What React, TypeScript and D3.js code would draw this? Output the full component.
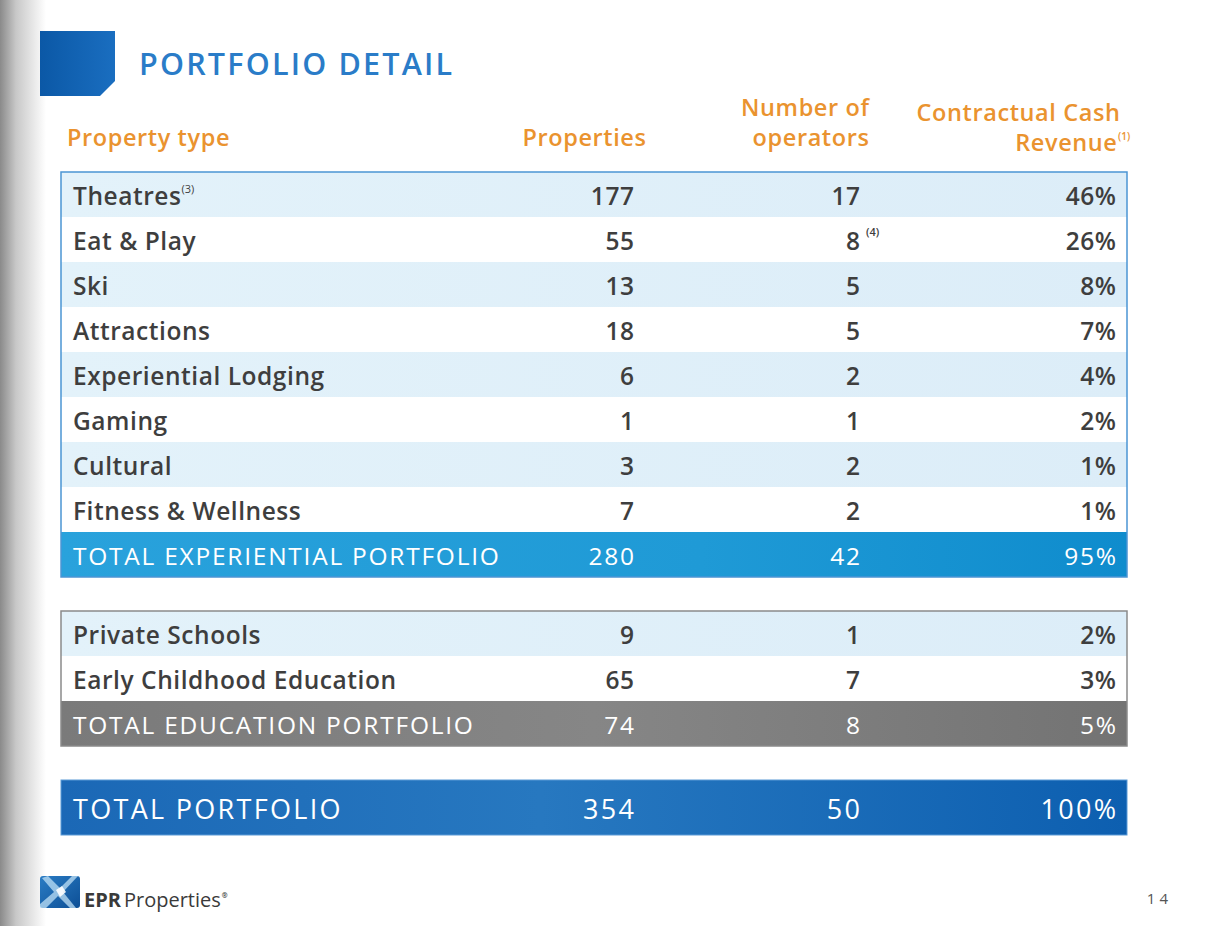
import React from "react";
import * as d3 from "d3";

const expCategories = ["Theatres", "Eat & Play", "Ski", "Attractions", "Experiential Lodging", "Gaming", "Cultural", "Fitness & Wellness"];
const expProperties = [177, 55, 13, 18, 6, 1, 3, 7];
const expOperators = [17, 8, 5, 5, 2, 1, 2, 2];
const expRevenue = [46, 26, 8, 7, 4, 2, 1, 1];
const expNotes = ["(3)", "", "", "", "", "", "", ""];
const opNotes = ["", "(4)", "", "", "", "", "", ""];
const expTotal = { label: "TOTAL EXPERIENTIAL PORTFOLIO", properties: 280, operators: 42, revenue: 95 };

const eduCategories = ["Private Schools", "Early Childhood Education"];
const eduProperties = [9, 65];
const eduOperators = [1, 7];
const eduRevenue = [2, 3];
const eduTotal = { label: "TOTAL EDUCATION PORTFOLIO", properties: 74, operators: 8, revenue: 5 };

const grandTotal = { label: "TOTAL PORTFOLIO", properties: 354, operators: 50, revenue: 100 };

const headerLabels = { type: "Property type", props: "Properties", ops: ["Number of", "operators"], rev: ["Contractual Cash", "Revenue"] };

const FONT = "'Open Sans', 'Noto Sans', sans-serif";
const W = 1212;
const H = 926;

const colX = { label: 73, props: 634, ops: 860, rev: 1116 };
const tableX0 = 61;
const tableX1 = 1127;

type Style = { size: number; weight: number; ls: number; color: string };

export default function App() {
  const expRows = [...expCategories, expTotal.label];
  const yExp = d3.scaleBand<string>().domain(expRows).range([172, 577]).padding(0);
  const eduRows = [...eduCategories, eduTotal.label];
  const yEdu = d3.scaleBand<string>().domain(eduRows).range([611, 746]).padding(0);
  const fmtPct = (v: number) => `${v}%`;
  const bodyColor = "#3e3e3e";

  const bodyStyle: Style = { size: 24.5, weight: 600, ls: 0.55, color: bodyColor };
  const totalStyle: Style = { size: 24.5, weight: 400, ls: 1.75, color: "#ffffff" };
  const grandStyle: Style = { size: 27, weight: 400, ls: 2.3, color: "#ffffff" };

  const rowText = (key: string, y: number, label: string, p: number, o: number, r: number, s: Style, note = "", opNote = "") => {
    const common = { fontSize: s.size, fontWeight: s.weight, fill: s.color, dominantBaseline: "central" as const, letterSpacing: s.ls };
    return (
      <g key={key}>
        <text x={colX.label} y={y} {...common}>
          {label}
          {note && (
            <tspan fontSize={11} fontWeight={400} letterSpacing={0} dy={-8} dx={0}>
              {note}
            </tspan>
          )}
        </text>
        <text x={colX.props + s.ls} y={y} textAnchor="end" {...common}>
          {p}
        </text>
        <text x={colX.ops + s.ls} y={y} textAnchor="end" {...common}>
          {o}
        </text>
        {opNote && (
          <text x={colX.ops + 6} y={y - 9} fontSize={11} fontWeight={600} fill={s.color} dominantBaseline="central">
            {opNote}
          </text>
        )}
        <text x={colX.rev + s.ls} y={y} textAnchor="end" {...common}>
          {fmtPct(r)}
        </text>
      </g>
    );
  };

  const hs = { fontSize: 23.5, fontWeight: 600, letterSpacing: 0.6 };

  return (
    <svg width={W} height={H} style={{ position: "absolute", left: 0, top: 0 }} fontFamily={FONT}>
      <defs>
        <linearGradient id="shadow" x1="0" x2="1" y1="0" y2="0">
          <stop offset="0" stopColor="#8a8a8a" />
          <stop offset="0.35" stopColor="#c8c8c8" />
          <stop offset="1" stopColor="#ffffff" />
        </linearGradient>
        <linearGradient id="titleSq" x1="0" x2="1" y1="0" y2="0">
          <stop offset="0" stopColor="#0b58a6" />
          <stop offset="1" stopColor="#1a6ec0" />
        </linearGradient>
        <linearGradient id="expTot" x1="0" x2="1" y1="0" y2="0">
          <stop offset="0" stopColor="#29a2dc" />
          <stop offset="0.6" stopColor="#1f9ad6" />
          <stop offset="1" stopColor="#0f8ccd" />
        </linearGradient>
        <linearGradient id="eduTot" x1="0" x2="1" y1="0" y2="0">
          <stop offset="0" stopColor="#7a7a7a" />
          <stop offset="0.5" stopColor="#868686" />
          <stop offset="1" stopColor="#737373" />
        </linearGradient>
        <linearGradient id="grandTot" x1="0" x2="1" y1="0" y2="0">
          <stop offset="0" stopColor="#1b68b6" />
          <stop offset="0.45" stopColor="#2778c0" />
          <stop offset="1" stopColor="#0d5fb0" />
        </linearGradient>
        <linearGradient id="lightRow" x1="0" x2="1" y1="0" y2="0">
          <stop offset="0" stopColor="#e3f2fa" />
          <stop offset="1" stopColor="#dcedf8" />
        </linearGradient>
        <linearGradient id="logoG" x1="0" x2="1" y1="0" y2="1">
          <stop offset="0" stopColor="#2a7cc4" />
          <stop offset="1" stopColor="#0d4f96" />
        </linearGradient>
      </defs>

      <rect x={0} y={0} width={W} height={H} fill="#ffffff" />
      <rect x={0} y={0} width={46} height={H} fill="url(#shadow)" />

      {/* title */}
      <path d="M40,31 L115,31 L115,81 L100,96 L40,96 Z" fill="url(#titleSq)" />
      <text x={139} y={75} fontSize={30.5} fontWeight={600} fill="#2a7cc8" letterSpacing={2.2}>
        PORTFOLIO DETAIL
      </text>

      {/* headers */}
      <g fill="#ea932f">
        <text x={67} y={146} {...hs}>{headerLabels.type}</text>
        <text x={646.5} y={146} textAnchor="end" {...hs}>{headerLabels.props}</text>
        <text x={869.5} y={116} textAnchor="end" {...hs}>{headerLabels.ops[0]}</text>
        <text x={869.5} y={146} textAnchor="end" {...hs}>{headerLabels.ops[1]}</text>
        <text x={1120.5} y={121} textAnchor="end" {...hs}>{headerLabels.rev[0]}</text>
        <text x={1117.5} y={151} textAnchor="end" {...hs}>{headerLabels.rev[1]}</text>
        <text x={1118} y={140} fontSize={10} fontWeight={600}>(1)</text>
      </g>

      {/* experiential table */}
      <g>
        {expCategories.map((c, i) => (
          <rect key={c} x={tableX0} y={yExp(c)!} width={tableX1 - tableX0} height={yExp.bandwidth()} fill={i % 2 === 0 ? "url(#lightRow)" : "#ffffff"} />
        ))}
        <rect x={tableX0} y={yExp(expTotal.label)!} width={tableX1 - tableX0} height={yExp.bandwidth()} fill="url(#expTot)" />
        <rect x={tableX0} y={172} width={tableX1 - tableX0} height={405} fill="none" stroke="#4b95d4" strokeWidth={1.5} />
        {expCategories.map((c, i) =>
          rowText(c, yExp(c)! + yExp.bandwidth() / 2 + 1, c, expProperties[i], expOperators[i], expRevenue[i], bodyStyle, expNotes[i], opNotes[i])
        )}
        {rowText("expTot", yExp(expTotal.label)! + yExp.bandwidth() / 2 + 1, expTotal.label, expTotal.properties, expTotal.operators, expTotal.revenue, totalStyle)}
      </g>

      {/* education table */}
      <g>
        {eduCategories.map((c, i) => (
          <rect key={c} x={tableX0} y={yEdu(c)!} width={tableX1 - tableX0} height={yEdu.bandwidth()} fill={i % 2 === 0 ? "url(#lightRow)" : "#ffffff"} />
        ))}
        <rect x={tableX0} y={yEdu(eduTotal.label)!} width={tableX1 - tableX0} height={yEdu.bandwidth()} fill="url(#eduTot)" />
        <rect x={tableX0} y={611} width={tableX1 - tableX0} height={135} fill="none" stroke="#8a8a8a" strokeWidth={1.5} />
        {eduCategories.map((c, i) =>
          rowText(c, yEdu(c)! + yEdu.bandwidth() / 2 + 1, c, eduProperties[i], eduOperators[i], eduRevenue[i], bodyStyle)
        )}
        {rowText("eduTot", yEdu(eduTotal.label)! + yEdu.bandwidth() / 2 + 1, eduTotal.label, eduTotal.properties, eduTotal.operators, eduTotal.revenue, totalStyle)}
      </g>

      {/* grand total */}
      <rect x={tableX0} y={780} width={tableX1 - tableX0} height={55} fill="url(#grandTot)" stroke="#5a9ad6" strokeWidth={1} />
      {rowText("grand", 808, grandTotal.label, grandTotal.properties, grandTotal.operators, grandTotal.revenue, grandStyle)}

      {/* footer logo */}
      <g>
        <rect x={40} y={876} width={40} height={32} rx={3} fill="url(#logoG)" />
        <path d="M48,876 L60,888 L72,876 L78,876 L63,892 L76,908 L70,908 L58,896 L46,908 L40,908 L40,904 L54,892 L42,878 Z" fill="#bfe0f6" opacity={0.75} />
        <path d="M56,890 L62,886 L66,892 L60,897 Z" fill="#ffffff" opacity={0.9} />
        <text x={84} y={907} fontSize={20} fontWeight={700} fill="#3a3a3a">
          EPR
          <tspan fontWeight={400} dx={3}>Properties</tspan>
          <tspan fontSize={7} dy={-9} dx={1}>®</tspan>
        </text>
        <text x={1172} y={904} fontSize={15} fill="#555" textAnchor="end" letterSpacing={4}>
          14
        </text>
      </g>
    </svg>
  );
}
